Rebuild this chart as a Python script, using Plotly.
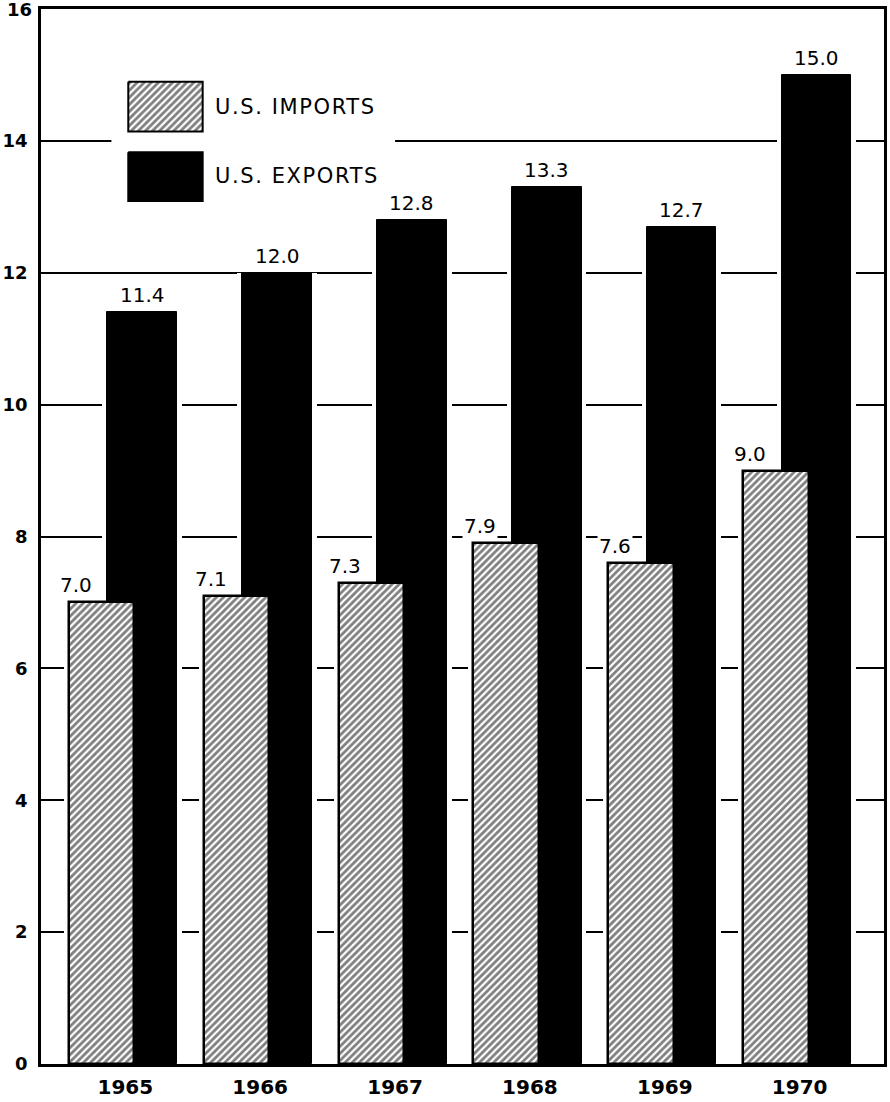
import numpy as np
import plotly.graph_objects as go

# U.S. trade values by year
years = ["1965", "1966", "1967", "1968", "1969", "1970"]
imports = [7.0, 7.1, 7.3, 7.9, 7.6, 9.0]
exports = [11.4, 12.0, 12.8, 13.3, 12.7, 15.0]
y_ticks = [0, 2, 4, 6, 8, 10, 12, 14, 16]

FONT = "DejaVu Sans"
W, H = 890, 1102
ML, MR, MT, MB = 37, 3, 9, 33
X_RANGE = [-0.625, 5.625]
PX = (W - ML - MR) / (X_RANGE[1] - X_RANGE[0])   # pixels per category unit

xs = np.arange(len(years))

# bar geometry (category units)
imp_off, imp_w = -57 / PX, 66 / PX
exp_off, exp_w = -18 / PX, 70 / PX
pad = 5 / PX   # white clearance that interrupts the grid lines next to bars

HATCH = dict(shape="/", fgcolor="black", bgcolor="white",
             size=5, solidity=0.55, fillmode="overlay")
TICKFONT = dict(family=FONT, size=18, color="black", weight="bold")

fig = go.Figure()

# white clearance bars behind the real bars
for vals, off, w in [(exports, exp_off, exp_w), (imports, imp_off, imp_w)]:
    fig.add_trace(go.Bar(
        x=xs, y=vals, offset=off - pad, width=w + 2 * pad,
        marker=dict(color="white", line=dict(width=0)),
        showlegend=False, hoverinfo="skip"))

fig.add_trace(go.Bar(
    x=xs, y=exports, offset=exp_off, width=exp_w, name="U.S. EXPORTS",
    marker=dict(color="black", line=dict(color="black", width=1)),
    showlegend=False))

fig.add_trace(go.Bar(
    x=xs, y=imports, offset=imp_off, width=imp_w, name="U.S. IMPORTS",
    marker=dict(color="white", line=dict(color="black", width=2.5),
                pattern=HATCH),
    showlegend=False))

annotations = []
for i, v in enumerate(exports):
    annotations.append(dict(
        x=i + exp_off + exp_w / 2, y=v, xref="x", yref="y", text=f"{v:.1f}",
        showarrow=False, yanchor="bottom", yshift=3, bgcolor="white",
        font=dict(family=FONT, size=20, color="black")))
for i, v in enumerate(imports):
    annotations.append(dict(
        x=i - 50 / PX, y=v, xref="x", yref="y", text=f"{v:.1f}",
        showarrow=False, yanchor="bottom", yshift=3, bgcolor="white",
        font=dict(family=FONT, size=20, color="black")))

# top y label sits on the frame edge, so it is placed as an annotation
annotations.append(dict(
    x=0, y=y_ticks[-1], xref="paper", yref="y", text=str(y_ticks[-1]),
    showarrow=False, xanchor="right", yanchor="middle", xshift=-7,
    font=TICKFONT))

# legend drawn on an overlay axis measured in page pixels:
# a white panel that breaks the grid line, then the two swatches
fig.add_trace(go.Scatter(
    x=[108, 394, 394, 108, 108], y=[62, 62, 214, 214, 62],
    xaxis="x2", yaxis="y2", mode="lines", fill="toself",
    fillcolor="white", line=dict(color="white", width=0),
    showlegend=False, hoverinfo="skip"))
fig.add_trace(go.Scatter(
    x=[125, 200, 200, 125, 125], y=[82, 82, 132, 132, 82],
    xaxis="x2", yaxis="y2", mode="lines", fill="toself",
    fillcolor="white", line=dict(color="black", width=2),
    fillpattern=HATCH, showlegend=False, hoverinfo="skip"))
fig.add_trace(go.Scatter(
    x=[125, 200, 200, 125, 125], y=[153, 153, 202, 202, 153],
    xaxis="x2", yaxis="y2", mode="lines", fill="toself",
    fillcolor="black", line=dict(color="black", width=2),
    showlegend=False, hoverinfo="skip"))
for label, yc in [("U.S. IMPORTS", 107), ("U.S. EXPORTS", 177)]:
    annotations.append(dict(
        x=210, y=yc, xref="x2", yref="y2",
        text=f'<span style="letter-spacing:1.6px">{label}</span>',
        showarrow=False, xanchor="left", yanchor="middle",
        font=dict(family=FONT, size=21, color="black")))

fig.update_layout(
    width=W, height=H,
    margin=dict(l=ML, r=MR, t=MT, b=MB, pad=0),
    paper_bgcolor="white", plot_bgcolor="white",
    barmode="overlay", bargap=0,
    annotations=annotations,
    font=dict(family=FONT, color="black"),
    xaxis=dict(
        range=X_RANGE, tickmode="array", tickvals=xs, ticktext=years,
        showgrid=False, zeroline=False, showline=True, linecolor="black",
        linewidth=2.5, mirror=True, ticks="", ticklabelstandoff=3,
        tickfont=dict(family=FONT, size=20, color="black", weight="bold")),
    yaxis=dict(
        range=[0, y_ticks[-1]], tickmode="array", tickvals=y_ticks[:-1],
        ticktext=[str(t) for t in y_ticks[:-1]],
        showgrid=True, gridcolor="black", gridwidth=1.5, zeroline=False,
        showline=True, linecolor="black", linewidth=2.5, mirror=True,
        ticks="", ticklabelstandoff=7, tickfont=TICKFONT),
    xaxis2=dict(overlaying="x", range=[ML, W - MR], visible=False,
                fixedrange=True),
    yaxis2=dict(overlaying="y", range=[H - MB, MT], visible=False,
                fixedrange=True),
)

fig.write_html("out.html")
